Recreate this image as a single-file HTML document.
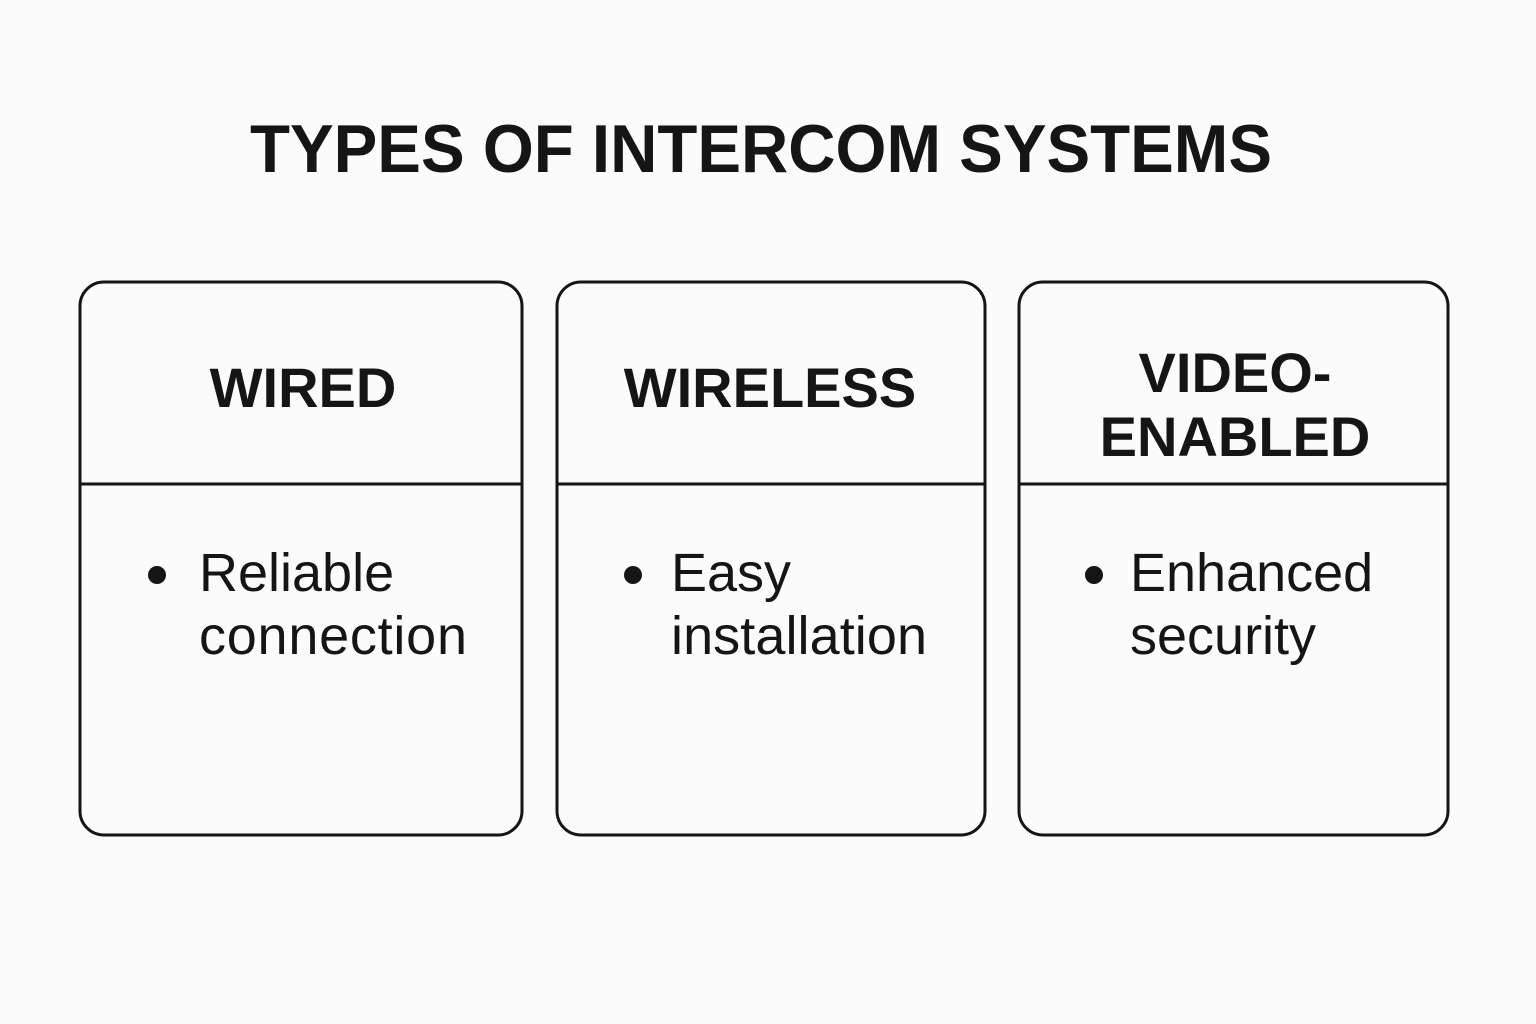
<!DOCTYPE html>
<html><head><meta charset="utf-8"><style>
html,body{margin:0;padding:0;background:#fbfbfb;}
svg{display:block}
text{font-family:"Liberation Sans",sans-serif;fill:#151515}
</style></head><body>
<svg width="1536" height="1024" viewBox="0 0 1536 1024" xmlns="http://www.w3.org/2000/svg">
<rect width="1536" height="1024" fill="#fbfbfb"/>
<text x="250" y="172" font-size="68" font-weight="bold" textLength="1022" lengthAdjust="spacingAndGlyphs">TYPES OF INTERCOM SYSTEMS</text>
<g fill="none" stroke="#151515" stroke-width="3">
<rect x="80" y="282" width="442" height="553" rx="24"/>
<line x1="80" y1="484" x2="522" y2="484"/>
<rect x="557" y="282" width="428" height="553" rx="24"/>
<line x1="557" y1="484" x2="985" y2="484"/>
<rect x="1019" y="282" width="429" height="553" rx="24"/>
<line x1="1019" y1="484" x2="1448" y2="484"/>
</g>
<g font-size="56" font-weight="bold" text-anchor="middle">
<text x="303" y="407">WIRED</text>
<text x="770" y="407">WIRELESS</text>
<text x="1235" y="392">VIDEO-</text>
<text x="1235" y="456">ENABLED</text>
</g>
<g font-size="54">
<circle cx="157" cy="575" r="9" fill="#151515"/>
<text x="199" y="591">Reliable</text>
<text x="199" y="654" textLength="268">connection</text>
<circle cx="633" cy="575" r="9" fill="#151515"/>
<text x="671" y="591">Easy</text>
<text x="671" y="654" textLength="256">installation</text>
<circle cx="1094" cy="575" r="9" fill="#151515"/>
<text x="1130" y="591">Enhanced</text>
<text x="1130" y="654">security</text>
</g>
</svg>
</body></html>
